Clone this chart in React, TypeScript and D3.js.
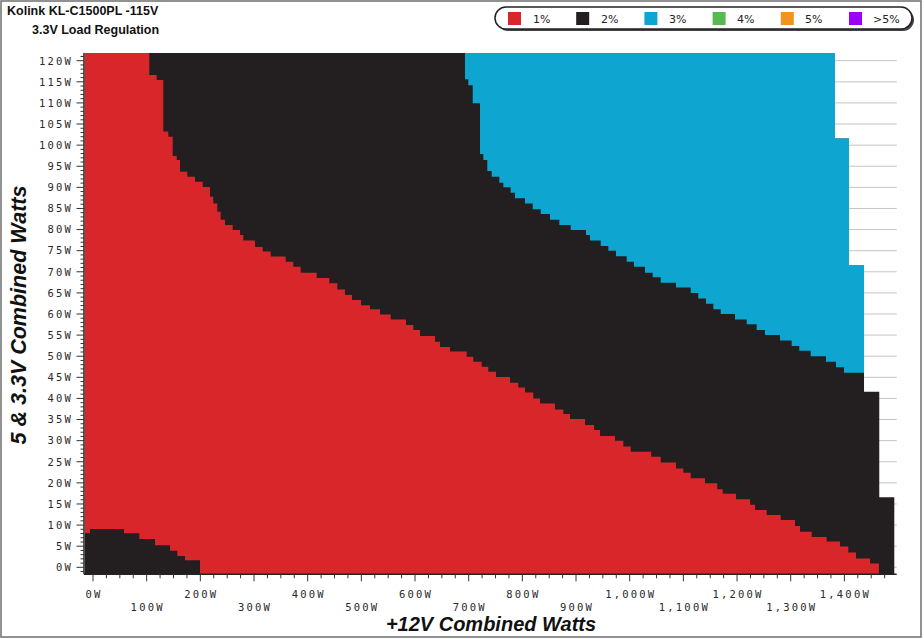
import * as d3 from 'd3';

// ---- data (watts) ----
// upper edge of the 1% (red) zone: [12V W, 5&3.3V W], step-after
const redTop: [number, number][] = [
  [-15, 121.8], [104.9, 116.6], [118.7, 115.4], [131, 103.2], [140.3, 102], [148.5, 97.4],
  [156, 96.5], [162.1, 93.7], [175.7, 92.5], [190, 91.3], [204.4, 90.1], [218, 87.8],
  [224.1, 86.2], [231.6, 84.2], [237.9, 82.3], [245.9, 81.1], [260.3, 79.9], [273.9, 78.7],
  [280, 77.4], [301.8, 75.9], [316.2, 74.8], [331.1, 73.6], [359, 72.4], [373.2, 71.2],
  [387, 69.8], [416.8, 68.5], [440.3, 67.3], [455.2, 65.8], [469.5, 64.5], [482.6, 63.3],
  [499.4, 62.1], [516.1, 61.1], [534.7, 59.9], [554.7, 58.7], [583.2, 57.4], [596.8, 56.2],
  [609.3, 54.8], [637.2, 53.4], [646.5, 52.2], [665.2, 51.1], [696.3, 49.9], [708.6, 48.7],
  [724.2, 47.5], [736.5, 46.3], [750.9, 45.1], [777, 43.7], [792.4, 42.6], [804.9, 41.4],
  [820.4, 40], [832.9, 38.8], [860.8, 37.4], [876.3, 36.3], [888.8, 35.1], [916.7, 33.7],
  [933.5, 32.5], [944.7, 31.1], [972.6, 30], [988.1, 28.6], [1001.9, 27.4], [1040, 26.2],
  [1057.8, 24.8], [1086.3, 23.4], [1099.9, 22.4], [1113.7, 21.1], [1140.3, 19.9], [1163.2, 18.5],
  [1173.3, 17.4], [1198.1, 16.1], [1224.2, 14.8], [1233.5, 13.6], [1255.3, 12.4], [1281.4, 11.2],
  [1308, 9.8], [1317.3, 8.4], [1339.1, 7.2], [1367, 6.1], [1391.8, 4.9], [1407.3, 3.5],
  [1421.6, 2.1], [1447.7, 0.9], [1464.4, 0.9],
];

// 2% pocket in the bottom-left corner (top edge)
const lowBlackTop: [number, number][] = [
  [-15, 8.05], [-5.6, 9.07], [57.8, 8.05], [86.3, 6.7], [115.5, 5.2], [143.5, 3.9],
  [157.1, 2.7], [171.4, 1.66], [199.4, 1.66],
];

// lower edge of the 3% (cyan) zone
const cyanBottom: [number, number][] = [
  [693.1, 115.6], [699.3, 114.2], [707.5, 109.9], [721.1, 97.9], [727.3, 96.5], [734.7, 93.9],
  [742.9, 92.5], [757.1, 91.1], [764.5, 90], [778.2, 88.7], [786.3, 87.4], [804.9, 86.2],
  [819.3, 84.8], [834.2, 83.7], [851.5, 82.3], [868.9, 81.1], [890.1, 79.9], [918.6, 78.7],
  [926, 77.4], [946, 76.1], [960.2, 75], [974.5, 73.7], [994.4, 72.4], [1008, 71.2],
  [1028.5, 69.8], [1042.8, 68.7], [1057.8, 67.4], [1086.3, 66.3], [1113.7, 65], [1127.8, 63.7],
  [1142.2, 62.4], [1155.8, 61.1], [1169.6, 60], [1196.2, 58.7], [1218, 57.6], [1236.6, 56.2],
  [1252.1, 55], [1280, 53.7], [1301.8, 52.4], [1316, 51.3], [1337.2, 50], [1365.8, 48.7],
  [1384.4, 47.4], [1399.3, 46.1], [1436.6, 46.1],
];

// right edge of the tested area: rows from edgeTop[i] down to the next one
const edgeTop = [121.8, 101.6, 71.6, 41.6, 16.6];
const edgeMaxX = [1382.5, 1408.6, 1436.6, 1465, 1493];
const dataMinX = -15;
const dataMinY = -1.7;

const legendLabels = ['1%', '2%', '3%', '4%', '5%', '>5%'];
const legendColors = ['#d8262a', '#231f20', '#0ea5d1', '#57b952', '#f0931f', '#9a00f8'];

const xTicks = d3.range(0, 1476, 25);
const xLabels = d3.range(0, 1401, 100);
const yMinor = d3.range(-1, 122, 1);
const yLabels = d3.range(0, 121, 5);

export default function App() {
  const x = d3.scaleLinear().domain([0, 1000]).range([93, 629.7]);
  const y = d3.scaleLinear().domain([0, 120]).range([567.3, 60.7]);
  const plotRight = 896.7;
  const axisY = 574.3;
  const axisX = 84;

  const stepArea = (base: number) =>
    d3.area<[number, number]>()
      .x(d => x(d[0]))
      .y0(y(base))
      .y1(d => y(d[1]))
      .curve(d3.curveStepAfter);

  const cyanArea = d3.area<[number, number]>()
    .x(d => x(d[0]))
    .y0(d => y(d[1]))
    .y1(y(edgeTop[0]))
    .curve(d3.curveStepAfter);

  // outline of the tested area as one polygon (no seams between rows)
  const outline: [number, number][] = [[dataMinX, edgeTop[0]]];
  edgeTop.forEach((t, i) => {
    const bottom = i + 1 < edgeTop.length ? edgeTop[i + 1] : dataMinY;
    outline.push([edgeMaxX[i], t], [edgeMaxX[i], bottom]);
  });
  outline.push([dataMinX, dataMinY]);
  const outlinePath = (d3.line<[number, number]>().x(d => x(d[0])).y(d => y(d[1]))(outline) ?? '') + 'Z';

  const mono = '"DejaVu Sans Mono", monospace';
  const sans = '"Liberation Sans", Arial, sans-serif';

  return (
    <svg width={924} height={639} style={{ position: 'absolute', left: 0, top: 0, background: '#fff' }}>
      <defs>
        <clipPath id="extent">
          <path d={outlinePath} />
        </clipPath>
      </defs>
      <rect x={1} y={1} width={920} height={636} fill="#fff" stroke="#6e6e6e" strokeWidth={1.5} />

      {/* gridlines */}
      {yLabels.map(v => (
        <line key={v} x1={x(dataMinX)} x2={plotRight} y1={y(v)} y2={y(v)} stroke="#c4c4c4" strokeWidth={1} />
      ))}

      {/* regions */}
      <path d={outlinePath} fill={legendColors[1]} />
      <g clipPath="url(#extent)">
        <path d={stepArea(dataMinY)(redTop) ?? ''} fill={legendColors[0]} />
        <path d={stepArea(dataMinY)(lowBlackTop) ?? ''} fill={legendColors[1]} />
        <path d={cyanArea(cyanBottom) ?? ''} fill={legendColors[2]} />
      </g>

      {/* y axis */}
      <line x1={axisX} x2={axisX} y1={y(edgeTop[0])} y2={axisY} stroke="#222" strokeWidth={1.5} />
      {yMinor.map(v => (
        <line key={v} x1={v % 5 === 0 ? 76.5 : 80.5} x2={axisX} y1={y(v)} y2={y(v)} stroke="#333" strokeWidth={1} />
      ))}
      {yLabels.map(v => (
        <text key={v} x={73} y={y(v) + 3.8} textAnchor="end" fontFamily={mono} fontSize={10.5} letterSpacing={2.2} fill="#2a2a2a">
          {v}W
        </text>
      ))}

      {/* x axis */}
      <line x1={axisX} x2={plotRight} y1={axisY} y2={axisY} stroke="#222" strokeWidth={1.5} />
      {xTicks.map(v => (
        <line key={v} x1={x(v)} x2={x(v)} y1={axisY} y2={axisY + (v % 100 === 0 ? 7 : 4)} stroke="#333" strokeWidth={1} />
      ))}
      {xLabels.map((v, i) => (
        <text key={v} x={x(v) + 1} y={i % 2 === 0 ? 597.5 : 611} textAnchor="middle" fontFamily={mono} fontSize={10.5} letterSpacing={2.2} fill="#2a2a2a">
          {d3.format(',')(v)}W
        </text>
      ))}

      {/* titles */}
      <text x={7} y={15} fontFamily={sans} fontWeight="bold" fontSize={12.5} fill="#111">Kolink KL-C1500PL -115V</text>
      <text x={32} y={34} fontFamily={sans} fontWeight="bold" fontSize={12.5} fill="#111">3.3V Load Regulation</text>
      <text x={491} y={631} textAnchor="middle" fontFamily={sans} fontWeight="bold" fontStyle="italic" fontSize={20} fill="#111">
        +12V Combined Watts
      </text>
      <text transform="translate(26,315) rotate(-90)" textAnchor="middle" fontFamily={sans} fontWeight="bold" fontStyle="italic" fontSize={21.5} fill="#111">
        5 &amp; 3.3V Combined Watts
      </text>

      {/* legend */}
      <rect x={497} y={9} width={417} height={22} rx={11} fill="#444" />
      <rect x={495} y={7} width={417} height={22} rx={11} fill="#fff" stroke="#222" strokeWidth={1.5} />
      {legendLabels.map((l, i) => (
        <g key={l}>
          <rect x={508 + i * 68.2} y={12} width={13} height={13} fill={legendColors[i]} />
          <text x={533 + i * 68} y={23} fontFamily='"DejaVu Sans", Verdana, sans-serif' fontSize={11} fill="#222">{l}</text>
        </g>
      ))}
    </svg>
  );
}
